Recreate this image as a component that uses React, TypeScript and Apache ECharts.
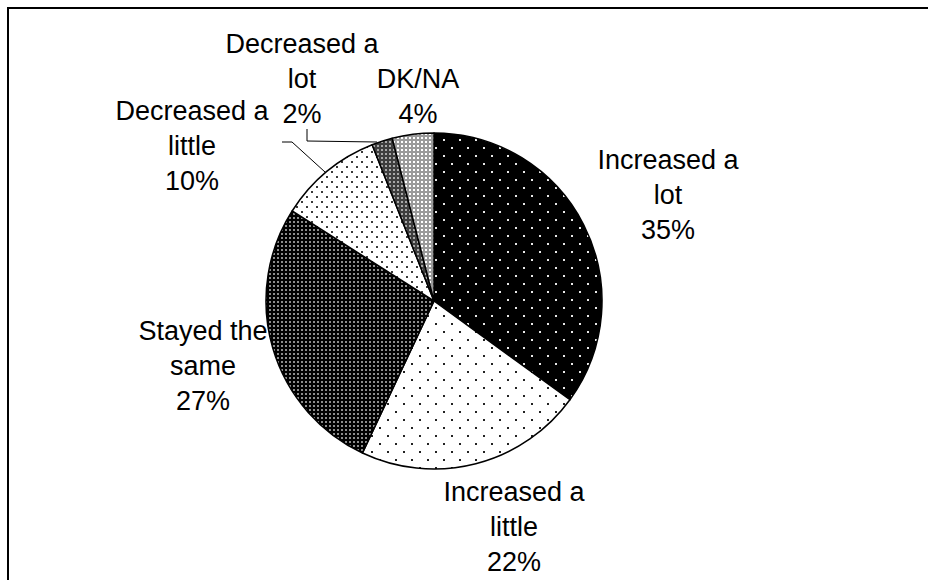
import React, { useEffect, useRef } from "react";
import * as echarts from "echarts";

// ---- data ----
const categories = [
  "Increased a\nlot",
  "Increased a\nlittle",
  "Stayed the\nsame",
  "Decreased a\nlittle",
  "Decreased a\nlot",
  "DK/NA",
];
const values = [35, 22, 27, 10, 2, 4];

// ---- layout (not data) ----
const labelCenters: [number, number][] = [
  [668, 195],
  [514, 527],
  [203, 366],
  [192, 146],
  [302, 79],
  [418, 96],
];
const leaderLines: Record<number, number[][]> = {
  3: [
    [325, 172],
    [292, 142],
    [282, 142],
  ],
  4: [
    [377, 142],
    [307, 141],
    [307, 129],
  ],
};

type Dot = [number, number, number, number, string];
function makePattern(size: number, bg: string, dots: Dot[]) {
  const c = document.createElement("canvas");
  c.width = size;
  c.height = size;
  const ctx = c.getContext("2d")!;
  ctx.fillStyle = bg;
  ctx.fillRect(0, 0, size, size);
  dots.forEach(([x, y, w, h, col]) => {
    ctx.fillStyle = col;
    ctx.fillRect(x, y, w, h);
  });
  return { image: c, repeat: "repeat", imageWidth: size, imageHeight: size };
}

export default function App() {
  const ref = useRef<HTMLDivElement>(null);
  useEffect(() => {
    if (!ref.current) return;
    const chart = echarts.init(ref.current, null, { renderer: "svg" });
    const patterns = [
      makePattern(16, "#000000", [
        [3, 3, 2, 2, "#e8e8e8"],
        [11, 11, 2, 2, "#e8e8e8"],
      ]),
      makePattern(16, "#ffffff", [
        [3, 3, 2, 2, "#222222"],
        [11, 11, 2, 2, "#222222"],
      ]),
      makePattern(4, "#000000", [[1, 1, 2, 2, "#8c8c8c"]]),
      makePattern(10, "#ffffff", [
        [1, 1, 2, 2, "#3a3a3a"],
        [6, 6, 2, 2, "#3a3a3a"],
      ]),
      makePattern(4, "#3e3e3e", [
        [1, 1, 2, 2, "#a8a8a8"],
      ]),
      makePattern(4, "#9a9a9a", [
        [1, 1, 2, 2, "#ffffff"],
      ]),
    ];
    const data = categories.map((name, i) => ({
      name,
      value: values[i],
      itemStyle: { color: patterns[i] as any },
      labelLine: { show: !!leaderLines[i] },
    }));
    chart.setOption({
      animation: false,
      graphic: [
        {
          type: "rect",
          shape: { x: 8, y: 8, width: 1000, height: 1000 },
          style: { fill: "none", stroke: "#000", lineWidth: 2 },
          silent: true,
        },
      ],
      series: [
        {
          type: "pie",
          center: [434, 301],
          radius: 168,
          startAngle: 90,
          clockwise: true,
          avoidLabelOverlap: false,
          silent: true,
          itemStyle: { borderColor: "#000", borderWidth: 1.5 },
          label: {
            show: true,
            position: "outside",
            formatter: "{b}\n{d}%",
            fontSize: 27,
            lineHeight: 35,
            fontFamily: "'Liberation Sans', Arial, sans-serif",
            color: "#000",
            align: "center",
          },
          labelLine: {
            lineStyle: { color: "#000", width: 1 },
          },
          labelLayout: (params: any) => {
            const i = params.dataIndex;
            const [x, y] = labelCenters[i];
            const out: any = { x, y, align: "center", verticalAlign: "middle" };
            if (leaderLines[i]) out.labelLinePoints = leaderLines[i];
            return out;
          },
          data,
        },
      ],
    });
    return () => chart.dispose();
  }, []);
  return (
    <div
      ref={ref}
      style={{ position: "fixed", left: 0, top: 0, width: 928, height: 580, background: "#fff" }}
    />
  );
}
